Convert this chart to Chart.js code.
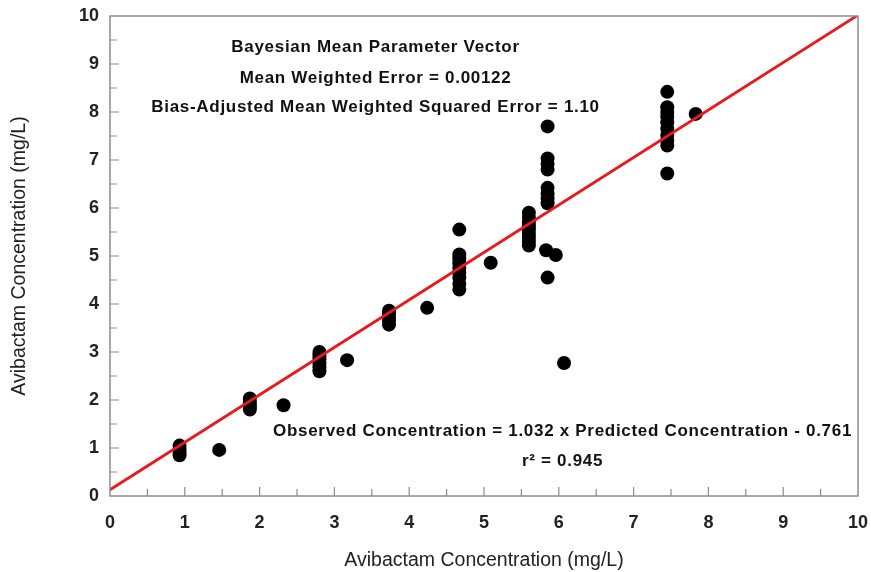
<!DOCTYPE html>
<html>
<head>
<meta charset="utf-8">
<script src="https://cdn.jsdelivr.net/npm/chart.js@4/dist/chart.umd.min.js"></script>
<style>
html,body{margin:0;padding:0;background:#fff;}
#wrap{width:871px;height:572px;position:relative;}
</style>
</head>
<body>
<div id="wrap"><canvas id="c" width="871" height="572"></canvas></div>
<script>
// Data
const predicted = [
  0.93,0.93,0.93,0.93,
  1.46,
  1.87,1.87,1.87,1.87,
  2.32,
  2.80,2.80,2.80,2.80,2.80,2.80,
  3.17,
  3.73,3.73,3.73,3.73,3.73,
  4.24,
  4.67,4.67,4.67,4.67,4.67,4.67,4.67,4.67,4.67,
  5.09,
  5.60,5.60,5.60,5.60,5.60,5.60,5.60,5.60,5.60,
  5.85,5.83,5.85,5.85,5.85,5.85,5.85,5.85,5.85,5.85,
  5.96,
  6.07,
  7.45,7.45,7.45,7.45,7.45,7.45,7.45,7.45,7.45,7.45,
  7.83
];
const observed = [
  0.85,0.92,0.98,1.05,
  0.96,
  1.80,1.87,1.95,2.03,
  1.89,
  2.60,2.68,2.76,2.85,2.93,3.00,
  2.83,
  3.57,3.65,3.73,3.80,3.86,
  3.92,
  4.30,4.42,4.55,4.65,4.75,4.85,4.95,5.03,5.55,
  4.86,
  5.22,5.30,5.38,5.46,5.54,5.62,5.70,5.80,5.90,
  4.55,5.12,6.10,6.20,6.30,6.42,6.80,6.92,7.03,7.70,
  5.02,
  2.77,
  6.72,7.30,7.40,7.52,7.65,7.78,7.90,8.00,8.10,8.42,
  7.96
];
const fitX = [0, 10];
const fitY = [0.13, 10.02];
const tickValues = [0,1,2,3,4,5,6,7,8,9,10];
const axisTitle = 'Avibactam Concentration (mg/L)';
const topNotes = [
  'Bayesian Mean Parameter Vector',
  'Mean Weighted Error = 0.00122',
  'Bias-Adjusted Mean Weighted Squared Error = 1.10'
];
const bottomNotes = [
  'Observed Concentration = 1.032 x Predicted Concentration - 0.761',
  'r\u00B2 = 0.945'
];

const pts = predicted.map((x,i)=>({x:x, y:observed[i]}));
const fitPts = fitX.map((x,i)=>({x:x, y:fitY[i]}));

const framePlugin = {
  id:'frame',
  afterDraw(chart){
    const ctx = chart.ctx, a = chart.chartArea;
    const xs = chart.scales.x, ys = chart.scales.y;
    ctx.save();
    ctx.strokeStyle = '#8c8c8c';
    ctx.lineWidth = 1.5;
    ctx.strokeRect(a.left, a.top, a.right - a.left, a.bottom - a.top);
    // inward ticks every 0.5
    ctx.lineWidth = 1.2;
    ctx.beginPath();
    for (let v = 0.5; v < 10; v += 0.5) {
      const len = (Math.abs(v - Math.round(v)) < 1e-6) ? 9 : 7;
      const px = xs.getPixelForValue(v);
      ctx.moveTo(px, a.bottom); ctx.lineTo(px, a.bottom - len);
      const py = ys.getPixelForValue(v);
      ctx.moveTo(a.left, py); ctx.lineTo(a.left + len, py);
    }
    ctx.stroke();
    // annotations
    ctx.fillStyle = '#111';
    ctx.font = 'bold 17px "Liberation Sans", Arial, sans-serif';
    if ('letterSpacing' in ctx) ctx.letterSpacing = '0.7px';
    ctx.textAlign = 'center';
    ctx.textBaseline = 'middle';
    const cxTop = xs.getPixelForValue(3.55);
    const topYs = [47, 78, 107];
    topNotes.forEach((t,i)=>ctx.fillText(t, cxTop, topYs[i]));
    const cxBot = xs.getPixelForValue(6.05);
    const botYs = [431, 461];
    bottomNotes.forEach((t,i)=>ctx.fillText(t, cxBot, botYs[i]));
    ctx.restore();
  }
};

new Chart(document.getElementById('c'), {
  type: 'scatter',
  data: {
    datasets: [
      {
        label:'fit', type:'line', data: fitPts,
        borderColor:'#e8191f', borderWidth:2.8, pointRadius:0, fill:false, order:0
      },
      {
        label:'obs', data: pts,
        backgroundColor:'#000', borderColor:'#000', borderWidth:0,
        pointRadius:7, pointHoverRadius:7, order:1
      }
    ]
  },
  options: {
    responsive:false, animation:false,
    layout:{padding:{top:16, right:13, left:0, bottom:0}},
    plugins:{legend:{display:false}, tooltip:{enabled:false}},
    scales:{
      x:{
        type:'linear', min:0, max:10,
        afterBuildTicks: s => { s.ticks = tickValues.map(v=>({value:v})); },
        afterFit: s => { s.height = 76; s.paddingLeft = 0; s.paddingRight = 0; },
        grid:{display:false, drawTicks:false},
        border:{display:false},
        ticks:{color:'#222', padding:16, maxRotation:0, autoSkip:false,
               font:{family:'"Liberation Sans", Arial, sans-serif', size:18, weight:'bold'}},
        title:{display:true, text:axisTitle, color:'#222', padding:{top:0,bottom:0},
               font:{family:'"Liberation Sans", Arial, sans-serif', size:19.5}}
      },
      y:{
        type:'linear', min:0, max:10,
        afterBuildTicks: s => { s.ticks = tickValues.map(v=>({value:v})); },
        afterFit: s => { s.width = 110; s.paddingTop = 0; s.paddingBottom = 0; },
        grid:{display:false, drawTicks:false},
        border:{display:false},
        ticks:{color:'#222', padding:11, autoSkip:false,
               font:{family:'"Liberation Sans", Arial, sans-serif', size:18, weight:'bold'}},
        title:{display:true, text:axisTitle, color:'#222', padding:{top:8,bottom:0},
               font:{family:'"Liberation Sans", Arial, sans-serif', size:19.5}}
      }
    }
  },
  plugins:[framePlugin]
});
</script>
</body>
</html>
